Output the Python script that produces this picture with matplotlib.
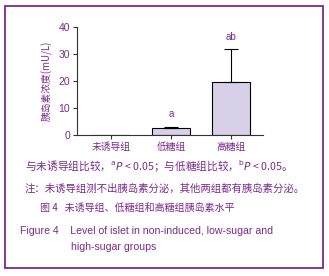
import matplotlib
matplotlib.use("Agg")
import matplotlib.pyplot as plt
from matplotlib.patches import Rectangle

plt.rcParams['font.family'] = ['Noto Sans CJK SC', 'DejaVu Sans']

groups = ['未诱导组', '低糖组', '高糖组']
means = [0, 2.7, 19.5]
errs = [0, 0.4, 12.2]
marks = ['', 'a', 'ab']
yticks = [0, 10, 20, 30, 40]

purple = '#7b2a8c'
fill = '#d8d0e8'

fig = plt.figure(figsize=(3.29, 2.76), dpi=100)

### frame round the whole figure
fig.patches.append(Rectangle((0.016, 0.029), 0.966, 0.95, transform=fig.transFigure,
                             fill=False, edgecolor=purple, linewidth=1.3))

ax = fig.add_axes([0.234, 0.511, 0.565, 0.391])
x = list(range(len(groups)))
ax.bar(x, means, width=0.64, color=fill, edgecolor='black', linewidth=0.8)
ax.errorbar(x[1:], means[1:], yerr=[[0, 0], errs[1:]], fmt='none', ecolor='black',
            elinewidth=0.8, capsize=5, capthick=0.8)
for i in range(len(groups)):
    if marks[i]:
        ax.text(x[i], means[i] + errs[i] + 4.5, marks[i], ha='center', va='center',
                fontsize=7, color=purple, family='Liberation Sans')

ax.set_xlim(-0.57, 2.53)
ax.set_ylim(0, 40)
ax.set_yticks(yticks)
ax.set_yticklabels([str(v) for v in yticks], fontsize=7.5, color=purple, family='Liberation Sans')
ax.set_xticks(x)
ax.set_xticklabels(groups, fontsize=7, color=purple)
ax.set_ylabel('胰岛素浓度(mU/L)', fontsize=7, color=purple, labelpad=4)
ax.spines['top'].set_visible(False)
ax.spines['right'].set_visible(False)
for s in ['left', 'bottom']:
    ax.spines[s].set_linewidth(0.8)
    ax.spines[s].set_color('#333333')
ax.tick_params(axis='both', length=3, width=0.8, color='#333333', pad=2)

### captions
fig.text(0.076, 0.398, '与未诱导组比较，$^{\\mathrm{a}}$$P$ < 0.05；与低糖组比较，$^{\\mathrm{b}}$$P$ < 0.05。',
         fontsize=7.7, color=purple, va='center')
fig.text(0.076, 0.318, '注：未诱导组测不出胰岛素分泌，其他两组都有胰岛素分泌。',
         fontsize=7.5, color=purple, va='center')
fig.text(0.122, 0.245, '图 4   未诱导组、低糖组和高糖组胰岛素水平',
         fontsize=7.2, color=purple, va='center')
fig.text(0.06, 0.163, 'Figure 4    Level of islet in non-induced, low-sugar and',
         fontsize=7.6, color=purple, va='center', family='Liberation Sans')
fig.text(0.216, 0.106, 'high-sugar groups',
         fontsize=7.6, color=purple, va='center', family='Liberation Sans')

fig.savefig('out.png', dpi=100)
